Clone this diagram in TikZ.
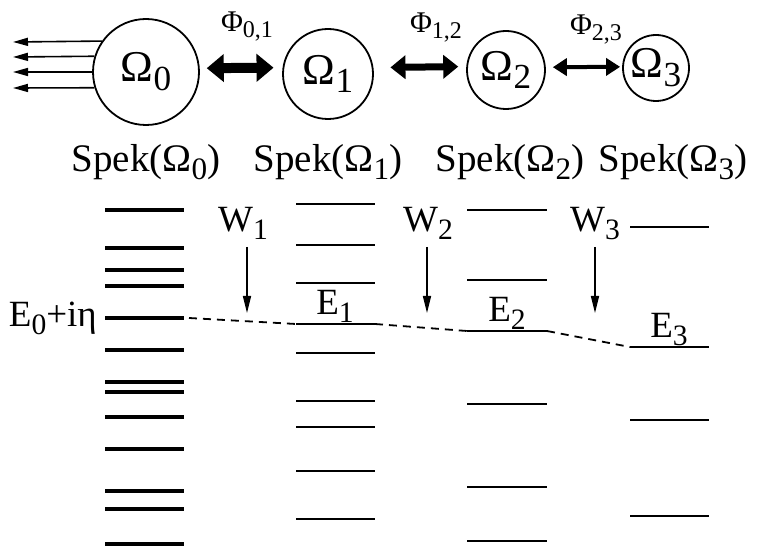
\documentclass[tikz,border=0pt]{standalone}
\usepackage{fontspec}
\usepackage{graphicx}
\setmainfont{Liberation Serif}
\usetikzlibrary{arrows.meta}
\newcommand{\lsub}[1]{\raisebox{-0.2em}{\scalebox{0.8}{#1}}}
\begin{document}
\begin{tikzpicture}[x=1pt,y=-1pt,
  circ/.style={circle,draw,line width=1.8pt,inner sep=0pt,font=\fontsize{44}{48}\selectfont},
  big/.style={font=\fontsize{39}{44}\selectfont,inner sep=0pt},
  mid/.style={font=\fontsize{37}{40}\selectfont,inner sep=0pt},
  philab/.style={font=\fontsize{30}{34}\selectfont,inner sep=0pt},
  lvlA/.style={line width=3.4pt},
  lvlB/.style={line width=1.4pt},
  outarr/.style={line width=1.6pt,-{Triangle[length=15pt,width=8pt]}},
  warr/.style={line width=1.6pt,-{Triangle[length=17pt,width=8pt]}},
  dblA/.style={line width=10pt,{Triangle[length=17pt,width=27pt]}-{Triangle[length=17pt,width=27pt]},shorten <=7pt,shorten >=9pt},
  dblB/.style={line width=7pt,{Triangle[length=15pt,width=23pt]}-{Triangle[length=15pt,width=23pt]},shorten <=17pt,shorten >=8pt},
  dblC/.style={line width=4pt,{Triangle[length=14pt,width=17pt]}-{Triangle[length=14pt,width=17pt]},shorten <=7pt,shorten >=2pt},
  dashline/.style={line width=1.8pt,dash pattern=on 8pt off 6pt}]
\useasboundingbox (0,0) rectangle (764,548);

% circles
\node[circ,minimum size=106pt] (O0) at (146,72) {Ω\lsub{0}};
\node[circ,minimum size=90pt] (O1) at (328,74) {Ω\lsub{1}};
\node[circ,minimum size=78pt] (O2) at (506,70) {Ω\lsub{2}};
\node[circ,minimum size=66pt] (O3) at (656,68) {Ω\lsub{3}};

% double arrows
\draw[dblA] (O0.4.2) -- (O1.172.5);
\draw[dblB] (O1.8.7) -- (O2.175.7);
\draw[dblC] (O2.4.3) -- (O3.178.3);
\node[philab,anchor=base] (P01) at (247,32) {Φ\lsub{0,1}};
\node[philab,anchor=base] (P12) at (436,33) {Φ\lsub{1,2}};
\node[philab,anchor=base] (P23) at (596,35) {Φ\lsub{2,3}};

% outgoing arrows
\coordinate (a1) at (13,42);
\coordinate (a2) at (13,57);
\coordinate (a3) at (13,72);
\coordinate (a4) at (13,88);
\draw[outarr] (O0.145.5) -- (a1);
\draw[outarr] (O0.163.6) -- (a2);
\draw[outarr] (O0.180) -- (a3);
\draw[outarr] (O0.197.6) -- (a4);

% spectrum titles
\node[big,anchor=base] (S0) at (146,172) {Spek(Ω\lsub{0})};
\node[big,anchor=base] (S1) at (328,172) {Spek(Ω\lsub{1})};
\node[big,anchor=base] (S2) at (510,172) {Spek(Ω\lsub{2})};
\node[big,anchor=base] (S3) at (673,172) {Spek(Ω\lsub{3})};

% levels
\foreach \y in {210,248,270,286,318,350,382,392,417,449,491,509,544}
  \draw[lvlA] (105,\y) -- (184,\y);
\foreach \y in {204,245,283,324,353,401,427,471,519}
  \draw[lvlB] (296,\y) -- (375,\y);
\foreach \y in {210,280,331,404,487,541}
  \draw[lvlB] (467,\y) -- (547,\y);
\foreach \y in {227,347,420,516}
  \draw[lvlB] (630,\y) -- (709,\y);

% dashed connection
\coordinate (e0) at (189,318);
\coordinate (e1l) at (296,324);
\coordinate (e1r) at (375,324);
\coordinate (e2l) at (467,331);
\coordinate (e2r) at (547,331);
\coordinate (e3l) at (630,347);
\draw[dashline] (e0) -- (e1l);
\draw[dashline] (e1r) -- (e2l);
\draw[dashline] (e2r) -- (e3l);

% energy labels
\node[mid,anchor=base east] (E0) at (97,327) {E\lsub{0}+iη};
\node[mid,anchor=base] (E1) at (335,315) {E\lsub{1}};
\node[mid,anchor=base] (E2) at (507,322) {E\lsub{2}};
\node[mid,anchor=base] (E3) at (669,338) {E\lsub{3}};

% W labels and arrows
\node[mid,anchor=base] (W1) at (243,232) {W\lsub{1}};
\node[mid,anchor=base] (W2) at (428,232) {W\lsub{2}};
\node[mid,anchor=base] (W3) at (595,232) {W\lsub{3}};
\coordinate (w1s) at (247,247);
\coordinate (w1e) at (247,313);
\coordinate (w2s) at (427,247);
\coordinate (w2e) at (427,313);
\coordinate (w3s) at (595,247);
\coordinate (w3e) at (595,313);
\draw[warr] (w1s) -- (w1e);
\draw[warr] (w2s) -- (w2e);
\draw[warr] (w3s) -- (w3e);
\end{tikzpicture}
\end{document}
